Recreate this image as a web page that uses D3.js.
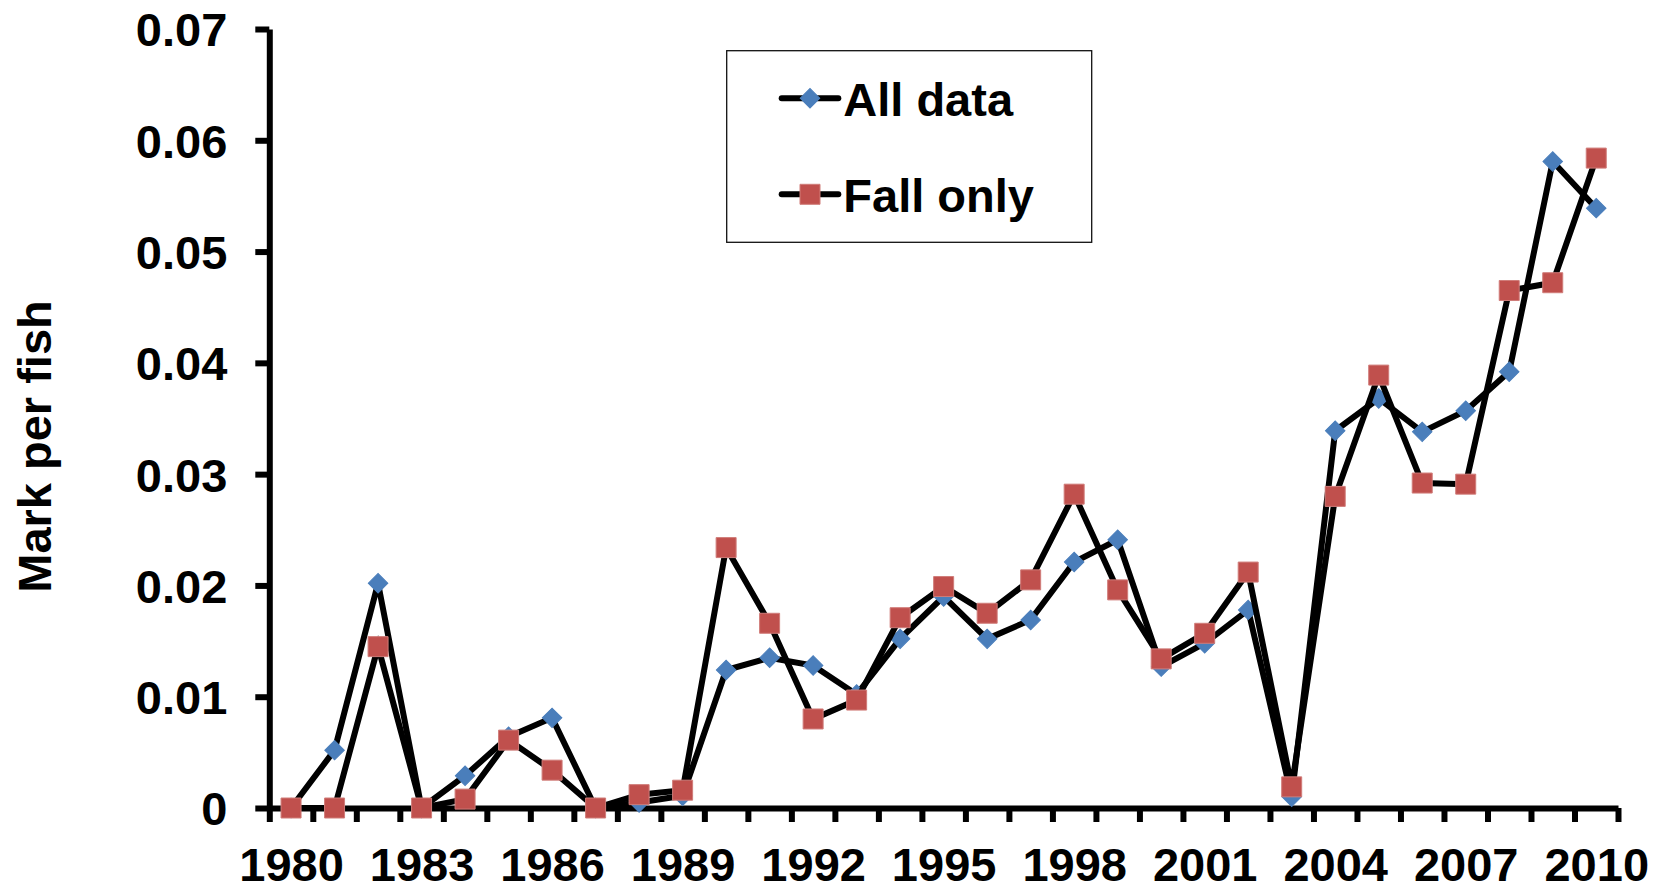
<!DOCTYPE html>
<html>
<head>
<meta charset="utf-8">
<script src="https://cdn.jsdelivr.net/npm/d3@7"></script>
<style>
  html, body { margin: 0; padding: 0; background: #fff; }
  svg { display: block; }
  text { font-family: "Liberation Sans", Arial, sans-serif; font-weight: bold; fill: #000; }
</style>
</head>
<body>
<svg id="chart" width="1655" height="889"></svg>
<script>
// ---- data ----
const years = d3.range(1980, 2011);
const allData = [0, 0.0052, 0.0202, 0, 0.0029, 0.0064, 0.0081, 0, 0.0005, 0.0011,
  0.0124, 0.0135, 0.0128, 0.0102, 0.0152, 0.0190, 0.0152, 0.0169, 0.0221, 0.0241,
  0.0127, 0.0148, 0.0178, 0.0010, 0.0339, 0.0368, 0.0338, 0.0357, 0.0392, 0.0581, 0.0539];
const fallOnly = [0, 0, 0.0145, 0, 0.0008, 0.0061, 0.0034, 0, 0.0012, 0.0016,
  0.0234, 0.0166, 0.0080, 0.0097, 0.0171, 0.0199, 0.0175, 0.0205, 0.0282, 0.0196,
  0.0134, 0.0157, 0.0212, 0.0019, 0.0280, 0.0389, 0.0292, 0.0291, 0.0465, 0.0472, 0.0584];
const yTicks = [0, 0.01, 0.02, 0.03, 0.04, 0.05, 0.06, 0.07];
const xLabelYears = [1980, 1983, 1986, 1989, 1992, 1995, 1998, 2001, 2004, 2007, 2010];
const seriesNames = ["All data", "Fall only"];
const yTitle = "Mark per fish";

// ---- layout ----
const plotLeft = 269.3, plotRight = 1618, plotTop = 29, plotBottom = 808;
const svg = d3.select("#chart");

const x = d3.scaleLinear().domain([1979.5, 2010.5]).range([plotLeft, plotRight]);
const y = d3.scaleLinear().domain([0, 0.07]).range([plotBottom, plotTop]);

const FONT = 47;
const AX_W = 6;

// y axis
const yAxis = svg.append("g").attr("transform", `translate(${plotLeft},0)`)
  .call(d3.axisLeft(y).tickValues(yTicks).tickSize(14).tickSizeOuter(0).tickPadding(28)
    .tickFormat(d => d === 0 ? "0" : d.toFixed(2)));
yAxis.selectAll("path, line").attr("stroke", "#000").attr("stroke-width", AX_W);
yAxis.selectAll("text").attr("font-size", FONT).attr("dy", "0.36em")
  .style("font-family", "'Liberation Sans', Arial, sans-serif").style("font-weight", "bold").attr("fill", "#000");

// x axis (ticks at year boundaries)
const boundaries = d3.range(1979.5, 2011, 1);
const xAxis = svg.append("g").attr("transform", `translate(0,${plotBottom})`)
  .call(d3.axisBottom(x).tickValues(boundaries).tickSize(14).tickSizeOuter(0).tickFormat(""));
xAxis.selectAll("path, line").attr("stroke", "#000").attr("stroke-width", AX_W);

const xLabels = svg.append("g").attr("transform", `translate(0,${plotBottom})`)
  .call(d3.axisBottom(x).tickValues(xLabelYears).tickSize(0).tickPadding(40).tickFormat(d3.format("d")));
xLabels.select("path.domain").remove();
xLabels.selectAll("text").attr("font-size", FONT)
  .style("font-family", "'Liberation Sans', Arial, sans-serif").style("font-weight", "bold").attr("fill", "#000");

// y title
svg.append("text")
  .attr("transform", `translate(51,446.5) rotate(-90)`)
  .attr("text-anchor", "middle")
  .attr("font-size", FONT)
  .text(yTitle);

// series
const line = d3.line().x((d, i) => x(years[i])).y(d => y(d));
const diamond = d3.symbol().type(d3.symbolSquare).size(190);
const square = d3.symbol().type(d3.symbolSquare).size(400);

const BLUE = "#4A7EBB", RED = "#C0504D";

function drawSeries(vals, sym, fill, stroke, rot) {
  svg.append("path").datum(vals)
    .attr("d", line).attr("fill", "none").attr("stroke", "#000").attr("stroke-width", 6);
  svg.append("g").selectAll("path").data(vals).join("path")
    .attr("d", sym)
    .attr("transform", (d, i) => `translate(${x(years[i])},${y(d)}) rotate(${rot})`)
    .attr("fill", fill).attr("stroke", stroke).attr("stroke-width", 1);
}
drawSeries(allData, diamond, BLUE, BLUE, 45);
drawSeries(fallOnly, square, RED, "#d07c79", 0);

// legend
const lg = svg.append("g");
lg.append("rect").attr("x", 726.7).attr("y", 50.7).attr("width", 365).attr("height", 191.6)
  .attr("fill", "#fff").attr("stroke", "#111").attr("stroke-width", 1.3);
const entries = [
  { name: seriesNames[0], cy: 98.3, sym: diamond, fill: BLUE, stroke: BLUE, rot: 45 },
  { name: seriesNames[1], cy: 194.3, sym: square, fill: RED, stroke: "#d07c79", rot: 0 }
];
entries.forEach(e => {
  lg.append("line").attr("x1", 781.7).attr("x2", 838.3).attr("y1", e.cy).attr("y2", e.cy)
    .attr("stroke", "#000").attr("stroke-width", 6).attr("stroke-linecap", "round");
  lg.append("path").attr("d", e.sym).attr("transform", `translate(810,${e.cy}) rotate(${e.rot})`)
    .attr("fill", e.fill).attr("stroke", e.stroke).attr("stroke-width", 1);
  lg.append("text").attr("x", 843.3).attr("y", e.cy + 17.7).attr("font-size", FONT).text(e.name);
});
</script>
</body>
</html>
